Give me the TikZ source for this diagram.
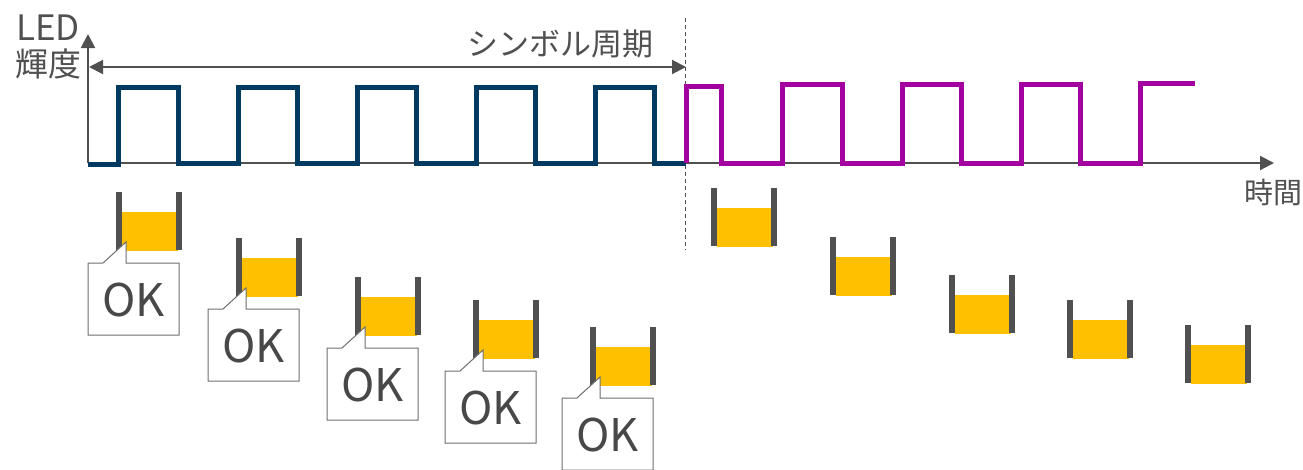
\documentclass[tikz,border=0pt]{standalone}
\usepackage{fontspec}
\setmainfont{Noto Sans CJK JP}
\usetikzlibrary{arrows.meta}
\definecolor{axisgray}{HTML}{505050}
\definecolor{wblue}{HTML}{003A60}
\definecolor{wmag}{HTML}{A2009F}
\definecolor{cupfill}{HTML}{FFC000}
\definecolor{boxgray}{HTML}{6E6E6E}
\tikzset{
  axisline/.style={draw=axisgray, line width=2pt, -{Triangle[length=14pt,width=14pt]}},
  periodline/.style={draw=axisgray, line width=2pt, {Triangle[length=14pt,width=14pt]}-{Triangle[length=14pt,width=14pt]}},
  wave/.style={line width=5pt, line join=miter},
  cupwall/.style={draw=axisgray, line width=6pt},
  callout/.style={draw=boxgray, fill=white, line width=1pt},
  lbl/.style={text=axisgray, inner sep=0pt},
  oktext/.style={text=axisgray!90!black, inner sep=0pt, font=\fontsize{45}{48}\selectfont},
}
\newcommand\mycup[3]{%
  \fill[cupfill] (#1+6,#2+20) rectangle (#1+62,#2+59);
  \draw[cupwall] (#1+3,#2) -- (#1+3,#2+58);
  \draw[cupwall] (#1+63,#2) -- (#1+63,#2+58);
  \coordinate (#3) at (#1,#2);
}
\newcommand\mycallout[3]{%
  \draw[callout] (#1-28,#2+71) -- (#1-13,#2+71) -- (#1+10,#2+50) -- (#1+10,#2+71)
     -- (#1+63,#2+71) -- (#1+63,#2+143) -- (#1-28,#2+143) -- cycle;
  \node[oktext] (#3) at (#1+17.5,#2+108) {OK};
}
\begin{document}
\begin{tikzpicture}[x=1pt,y=-1pt]
\useasboundingbox (0,0) rectangle (1303,469);
% axes
\coordinate (O) at (88,163);
\coordinate (ytop) at (88,34);
\coordinate (xend) at (1274,163);
\draw[axisline] (O) -- (ytop);
\draw[axisline] (O) -- (xend);
% labels
\node[lbl, font=\fontsize{35}{38}\selectfont, anchor=south] (led) at (48,41) {LED};
\node[lbl, font=\fontsize{33}{36}\selectfont] (kido) at (48,64) {輝度};
\node[lbl, font=\fontsize{29}{32}\selectfont] (jikan) at (1273,192) {時間};
% period
\coordinate (pl) at (89,67);
\coordinate (pr) at (686,67);
\draw[periodline] (pl) -- (pr);
\node[lbl, font=\fontsize{31}{34}\selectfont] (period) at (560,44) {シンボル周期};
% dashed divider
\coordinate (d1) at (685,18);
\coordinate (d2) at (685,250);
\draw[axisgray, line width=1pt, dash pattern=on 4pt off 3pt] (d1) -- (d2);
% waveforms
\draw[wave, wblue] (88,164) -- (118,164) -- (118,87) -- (178,87) -- (178,163) -- (238,163) -- (238,87) -- (297,87) -- (297,163)
  -- (357,163) -- (357,87) -- (416,87) -- (416,163) -- (476,163) -- (476,87) -- (535,87) -- (535,163)
  -- (595,163) -- (595,87) -- (654,87) -- (654,163) -- (686,163);
\draw[wave, wmag] (686,163) -- (686,86) -- (721,86) -- (721,163) -- (782,163) -- (782,84) -- (842,84) -- (842,163)
  -- (902,163) -- (902,84) -- (961,84) -- (961,163) -- (1021,163) -- (1021,84) -- (1080,84) -- (1080,163)
  -- (1140,163) -- (1140,83) -- (1195,83);
% cups, left
\mycup{116}{192}{c1}
\mycup{236}{238}{c2}
\mycup{355}{277}{c3}
\mycup{473}{300}{c4}
\mycup{590}{327}{c5}
% cups, right
\mycup{711}{188}{c6}
\mycup{830}{237}{c7}
\mycup{949}{275}{c8}
\mycup{1067}{300}{c9}
\mycup{1185}{325}{c10}
% callouts
\mycallout{116}{192}{ok1}
\mycallout{236}{238}{ok2}
\mycallout{355}{277}{ok3}
\mycallout{473}{300}{ok4}
\mycallout{590}{327}{ok5}
\end{tikzpicture}
\end{document}
